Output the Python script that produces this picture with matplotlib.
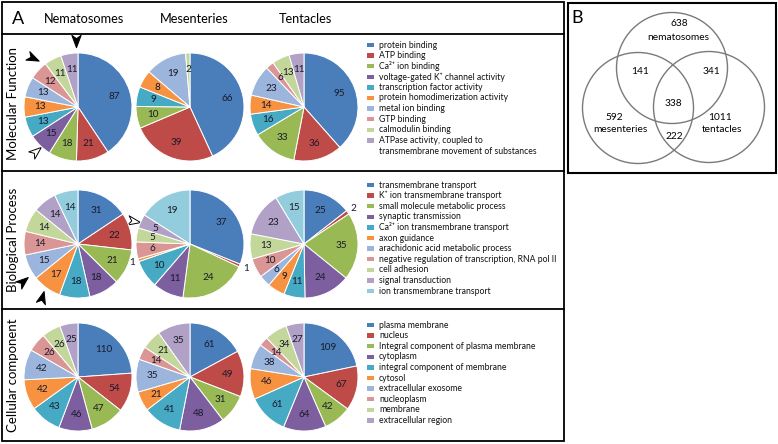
import numpy as np
import matplotlib
matplotlib.use("Agg")
import matplotlib.pyplot as plt
from matplotlib.patches import Rectangle, Circle
from matplotlib.path import Path
from matplotlib.markers import MarkerStyle
from matplotlib.transforms import Affine2D

plt.rcParams["font.family"] = ["Lato", "DejaVu Sans"]

W, H = 778, 444

# palette (Excel style)
COLORS = [
    "#4A7EBB",  # blue
    "#BE4B48",  # red
    "#98B954",  # green
    "#7D5FA0",  # purple
    "#46AAC5",  # teal
    "#F69240",  # orange
    "#9BB5DC",  # light blue
    "#DA9694",  # pink
    "#C4D79B",  # light green
    "#B2A1C7",  # lavender
    "#93CDDD",  # light cyan
]

tissues = ["Nematosomes", "Mesenteries", "Tentacles"]
rows = ["Molecular Function", "Biological Process", "Cellular component"]

# Molecular function
mf_terms = [
    "protein binding",
    "ATP binding",
    "Ca²⁺ ion binding",
    "voltage-gated K⁺ channel activity",
    "transcription factor activity",
    "protein homodimerization activity",
    "metal ion binding",
    "GTP binding",
    "calmodulin binding",
    "ATPase activity, coupled to\ntransmembrane movement of substances",
]
mf_nematosomes = [87, 21, 18, 15, 13, 13, 13, 12, 11, 11]
mf_mesenteries = [66, 39, 10, 0, 9, 8, 19, 0, 2, 0]
mf_tentacles = [95, 36, 33, 0, 16, 14, 23, 6, 13, 11]

# Biological process
bp_terms = [
    "transmembrane transport",
    "K⁺ ion transmembrane transport",
    "small molecule metabolic process",
    "synaptic transmission",
    "Ca²⁺ ion transmembrane transport",
    "axon guidance",
    "arachidonic acid metabolic process",
    "negative regulation of transcription, RNA pol II",
    "cell adhesion",
    "signal transduction",
    "ion transmembrane transport",
]
bp_nematosomes = [31, 22, 21, 18, 18, 17, 15, 14, 14, 14, 14]
bp_mesenteries = [37, 1, 24, 11, 10, 1, 0, 6, 5, 5, 19]
bp_tentacles = [25, 2, 35, 24, 11, 9, 6, 10, 13, 23, 15]

# Cellular component
cc_terms = [
    "plasma membrane",
    "nucleus",
    "Integral component of plasma membrane",
    "cytoplasm",
    "integral component of membrane",
    "cytosol",
    "extracellular exosome",
    "nucleoplasm",
    "membrane",
    "extracellular region",
]
cc_nematosomes = [110, 54, 47, 46, 43, 42, 42, 26, 26, 25]
cc_mesenteries = [61, 49, 31, 48, 41, 21, 35, 14, 21, 35]
cc_tentacles = [109, 67, 42, 64, 61, 46, 38, 14, 34, 27]

# Venn (panel B)
venn_labels = ["nematosomes", "mesenteries", "tentacles"]
venn_only = [638, 592, 1011]
venn_nem_mes = 141
venn_nem_ten = 341
venn_mes_ten = 222
venn_all = 338

fig = plt.figure(figsize=(W / 100, H / 100), dpi=100)
base = fig.add_axes([0, 0, 1, 1])
base.set_xlim(0, W)
base.set_ylim(H, 0)
base.axis("off")


def pie_at(cx, cy, r, values, colors):
    pad = 1.2
    ax = fig.add_axes([(cx - r * pad) / W, 1 - (cy + r * pad) / H,
                       2 * r * pad / W, 2 * r * pad / H])
    vals = [v for v in values if v > 0]
    cols = [c for v, c in zip(values, colors) if v > 0]
    wedges, _ = ax.pie(vals, colors=cols, startangle=90, counterclock=False,
                       radius=1, wedgeprops=dict(edgecolor="white", linewidth=0.7))
    ax.set_xlim(-pad, pad)
    ax.set_ylim(-pad, pad)
    ax.set_aspect("equal")
    ax.axis("off")
    total = sum(vals)
    for w, v in zip(wedges, vals):
        ang = np.deg2rad((w.theta1 + w.theta2) / 2)
        d = 1.13 if v / total < 0.013 else 0.7
        ax.text(d * np.cos(ang), d * np.sin(ang), str(v), ha="center",
                va="center", fontsize=7.2, color="#1a1a2a")


# panel A frame
base.add_patch(Rectangle((2, 2), 562, 439, fill=False, lw=1.3, ec="black"))
for y in [34, 171, 309]:
    base.plot([2, 564], [y, y], color="black", lw=1.3)

base.text(18, 19, "A", fontsize=13, ha="center", va="center")
col_x = [84, 194, 305]
for x, t in zip(col_x, tissues):
    base.text(x, 19, t, fontsize=9.2, ha="center", va="center")

row_y = [107, 244, 377]
row_lbl_y = [103, 240, 375]
for y, t in zip(row_lbl_y, rows):
    base.text(13, y, t, fontsize=9.5, rotation=90, ha="center", va="center")

pie_x = [78, 190, 304]
data = [
    [mf_nematosomes, mf_mesenteries, mf_tentacles],
    [bp_nematosomes, bp_mesenteries, bp_tentacles],
    [cc_nematosomes, cc_mesenteries, cc_tentacles],
]
for y, row in zip(row_y, data):
    for x, vals in zip(pie_x, row):
        pie_at(x, y, 54, vals, COLORS)

# legends
legend_top = [45, 185, 325]
step = 10.6
for y0, terms in zip(legend_top, [mf_terms, bp_terms, cc_terms]):
    y = y0
    for term, c in zip(terms, COLORS):
        base.add_patch(Rectangle((367, y - 2.2), 7, 4.4, color=c, lw=0))
        for i, line in enumerate(term.split("\n")):
            base.text(379, y + i * step, line, fontsize=6.25, va="center",
                      ha="left", color="#111111")
        y += step * (term.count("\n") + 1)

# arrowheads marking terms
head = Path([(1, 0), (-1, 0.75), (-0.45, 0), (-1, -0.75), (1, 0)],
            [Path.MOVETO, Path.LINETO, Path.LINETO, Path.LINETO, Path.CLOSEPOLY])
arrows = [
    (33, 58, -25, "black"),
    (76, 41, -90, "black"),
    (36, 151, 40, "white"),
    (23, 281, 40, "black"),
    (42, 297, 75, "black"),
    (134, 221, -10, "white"),
]
for ax_, ay, ang, fc in arrows:
    m = MarkerStyle(head, transform=Affine2D().rotate_deg(ang))
    base.plot(ax_, ay, marker=m, markersize=9, color=fc, mec="black", mew=0.7)

# panel B
base.add_patch(Rectangle((568, 3), 208, 170, fill=False, lw=1.5, ec="black"))
base.text(577, 18, "B", fontsize=13, ha="center", va="center")
circles = [(672, 68), (638, 108), (709, 107)]
for (x, y) in circles:
    base.add_patch(Circle((x, y), 55.5, fill=False, ec="#7a7a7a", lw=1.0))

fs = 7.3
base.text(679, 23, str(venn_only[0]), fontsize=fs, ha="center", va="center")
base.text(678, 37, venn_labels[0], fontsize=fs, ha="center", va="center")
base.text(614, 117, str(venn_only[1]), fontsize=fs, ha="center", va="center")
base.text(620, 129, venn_labels[1], fontsize=fs, ha="center", va="center")
base.text(720, 117, str(venn_only[2]), fontsize=fs, ha="center", va="center")
base.text(722, 129, venn_labels[2], fontsize=fs, ha="center", va="center")
base.text(640, 72, str(venn_nem_mes), fontsize=fs, ha="center", va="center")
base.text(711, 72, str(venn_nem_ten), fontsize=fs, ha="center", va="center")
base.text(674, 136, str(venn_mes_ten), fontsize=fs, ha="center", va="center")
base.text(673, 103, str(venn_all), fontsize=fs, ha="center", va="center")

fig.savefig("out.png", dpi=100)
